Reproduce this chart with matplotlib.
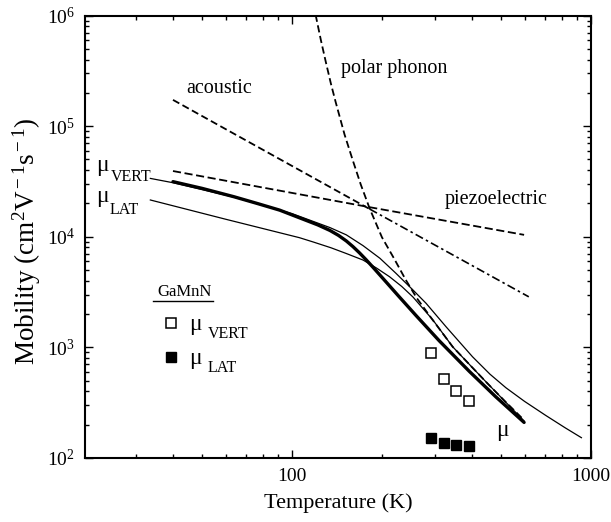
import matplotlib

matplotlib.use("Agg")
import matplotlib.pyplot as plt
from matplotlib.ticker import LogLocator, NullFormatter, LogFormatterMathtext, FixedLocator, FixedFormatter

plt.rcParams["font.family"] = ["Liberation Serif", "DejaVu Serif"]
plt.rcParams["mathtext.fontset"] = "custom"
plt.rcParams["mathtext.rm"] = "Liberation Serif"
plt.rcParams["mathtext.it"] = "Liberation Serif:italic"

# scattering-limited mobilities
acoustic_t = [40, 182, 620]
acoustic_mu = [1.73e5, 1.78e4, 2.86e3]

piezo_t = [40, 182, 598]
piezo_mu = [3.93e4, 1.85e4, 1.04e4]

polar_t = [120, 125, 130, 135, 140, 150, 160, 170, 182, 200, 220, 240, 262, 296, 345, 400, 451, 520, 590]
polar_mu = [1.02e6, 6.0e5, 3.75e5, 2.43e5, 1.66e5, 8.4e4, 4.86e4, 2.96e4, 1.8e4, 9.9e3, 6.3e3,
            4.1e3, 2.77e3, 1.76e3, 1.01e3, 662, 471, 318, 227]

# total mobility (thick) and model curves for vertical / lateral transport
total_t = [40, 50, 64, 77, 91, 110.5, 122, 134, 143, 152, 160, 168.5, 177, 187, 207, 227, 260, 311, 392, 481, 598]
total_mu = [3.15e4, 2.74e4, 2.3e4, 1.99e4, 1.74e4, 1.42e4, 1.28e4, 1.14e4, 1.03e4, 9.16e3, 8.14e3, 7.12e3,
            6.2e3, 5.27e3, 3.87e3, 2.92e3, 1.94e3, 1.145e3, 606, 356, 209]

vert_t = [33.6, 40, 64, 100, 134, 152, 173, 197, 223, 254, 281, 328, 402, 460, 520, 600, 706, 820, 930]
vert_mu = [3.37e4, 3.08e4, 2.28e4, 1.62e4, 1.21e4, 1.04e4, 8.3e3, 6.38e3, 4.66e3, 3.3e3, 2.5e3, 1.53e3,
           820, 570, 430, 324, 242, 187, 152]

lat_t = [33.6, 60, 106, 118, 135, 152, 173, 192, 212, 233, 254, 296, 345, 400, 451, 598]
lat_mu = [2.15e4, 1.44e4, 9.8e3, 8.95e3, 7.95e3, 7.05e3, 6.15e3, 5.2e3, 4.35e3, 3.55e3, 2.85e3, 1.77e3,
          1.01e3, 662, 471, 215]

# GaMnN data points
vert_data_t = [292, 323, 354, 390]
vert_data_mu = [881, 512, 404, 328]
lat_data_t = [292, 322, 354, 392]
lat_data_mu = [150, 137, 130, 128]

fig = plt.figure(figsize=(6.11, 5.22), dpi=100)
ax = fig.add_axes([0.139, 0.123, 0.828, 0.847])
ax.set_xscale("log")
ax.set_yscale("log")
ax.set_xlim(20.3, 1000)
ax.set_ylim(1e2, 1e6)

dash = (0, (4, 2))
ax.plot(acoustic_t[:2], acoustic_mu[:2], color="black", lw=1.3, linestyle=dash)
ax.plot(acoustic_t[1:], acoustic_mu[1:], color="black", lw=1.2, linestyle=(0, (5, 2, 1.5, 2)))
ax.plot(piezo_t, piezo_mu, color="black", lw=1.3, linestyle=(0, (4.5, 2)))
ax.plot(polar_t, polar_mu, color="black", lw=1.3, linestyle=dash)

ax.plot(vert_t, vert_mu, color="black", lw=0.9)
ax.plot(lat_t, lat_mu, color="black", lw=0.9)
ax.plot(total_t, total_mu, color="black", lw=2.4, solid_capstyle="round")

ax.plot(vert_data_t, vert_data_mu, "s", ms=6.5, mfc="white", mec="black", mew=1.1, ls="none")
ax.plot(lat_data_t, lat_data_mu, "s", ms=6.5, mfc="black", mec="black", ls="none")

# curve labels
ax.text(57, 2.2e5, "acoustic", fontsize=14.5, ha="center", va="center")
ax.text(220, 3.36e5, "polar phonon", fontsize=14.5, ha="center", va="center")
ax.text(482, 2.15e4, "piezoelectric", fontsize=14.5, ha="center", va="center")
ax.text(505, 175, "\u03bc", fontsize=17, ha="center", va="center")

ax.text(0.022, 0.660, "\u03bc", fontsize=17, ha="left", va="center", transform=ax.transAxes)
ax.text(0.052, 0.636, "VERT", fontsize=11.5, ha="left", va="center", transform=ax.transAxes)
ax.text(0.022, 0.590, "\u03bc", fontsize=17, ha="left", va="center", transform=ax.transAxes)
ax.text(0.049, 0.560, "LAT", fontsize=11.5, ha="left", va="center", transform=ax.transAxes)

# inset legend
ax.text(0.196, 0.374, "GaMnN", fontsize=12, ha="center", va="center", transform=ax.transAxes)
ax.plot([0.134, 0.253], [0.3545, 0.3545], color="black", lw=1.0, transform=ax.transAxes)
ax.plot([0.171], [0.304], "s", ms=6.5, mfc="white", mec="black", mew=1.1, transform=ax.transAxes)
ax.plot([0.171], [0.227], "s", ms=6.5, mfc="black", mec="black", transform=ax.transAxes)
ax.text(0.205, 0.302, "\u03bc", fontsize=17, ha="left", va="center", transform=ax.transAxes)
ax.text(0.243, 0.281, "VERT", fontsize=11.5, ha="left", va="center", transform=ax.transAxes)
ax.text(0.205, 0.224, "\u03bc", fontsize=17, ha="left", va="center", transform=ax.transAxes)
ax.text(0.243, 0.202, "LAT", fontsize=11.5, ha="left", va="center", transform=ax.transAxes)

ax.xaxis.set_major_locator(FixedLocator([100, 1000]))
ax.xaxis.set_major_formatter(FixedFormatter(["100", "1000"]))
ax.xaxis.set_minor_locator(LogLocator(base=10, subs=range(2, 10), numticks=20))
ax.xaxis.set_minor_formatter(NullFormatter())
ax.yaxis.set_major_locator(LogLocator(base=10, numticks=10))
ax.yaxis.set_major_formatter(LogFormatterMathtext())
ax.yaxis.set_minor_locator(LogLocator(base=10, subs=range(2, 10), numticks=20))
ax.yaxis.set_minor_formatter(NullFormatter())

ax.tick_params(which="both", direction="in", top=True, right=True, width=1.0, labelsize=14)
ax.tick_params(which="major", length=5.5, pad=7)
ax.tick_params(which="minor", length=3)
for spine in ax.spines.values():
    spine.set_linewidth(1.5)

ax.set_xlabel("Temperature (K)", fontsize=16, labelpad=6)
ax.set_ylabel("Mobility (cm$^2$V$^{\\rm -1}$s$^{\\rm -1}$)", fontsize=19.5)
ax.yaxis.set_label_coords(-0.083, 0.49)

fig.savefig("out.png", dpi=100)
